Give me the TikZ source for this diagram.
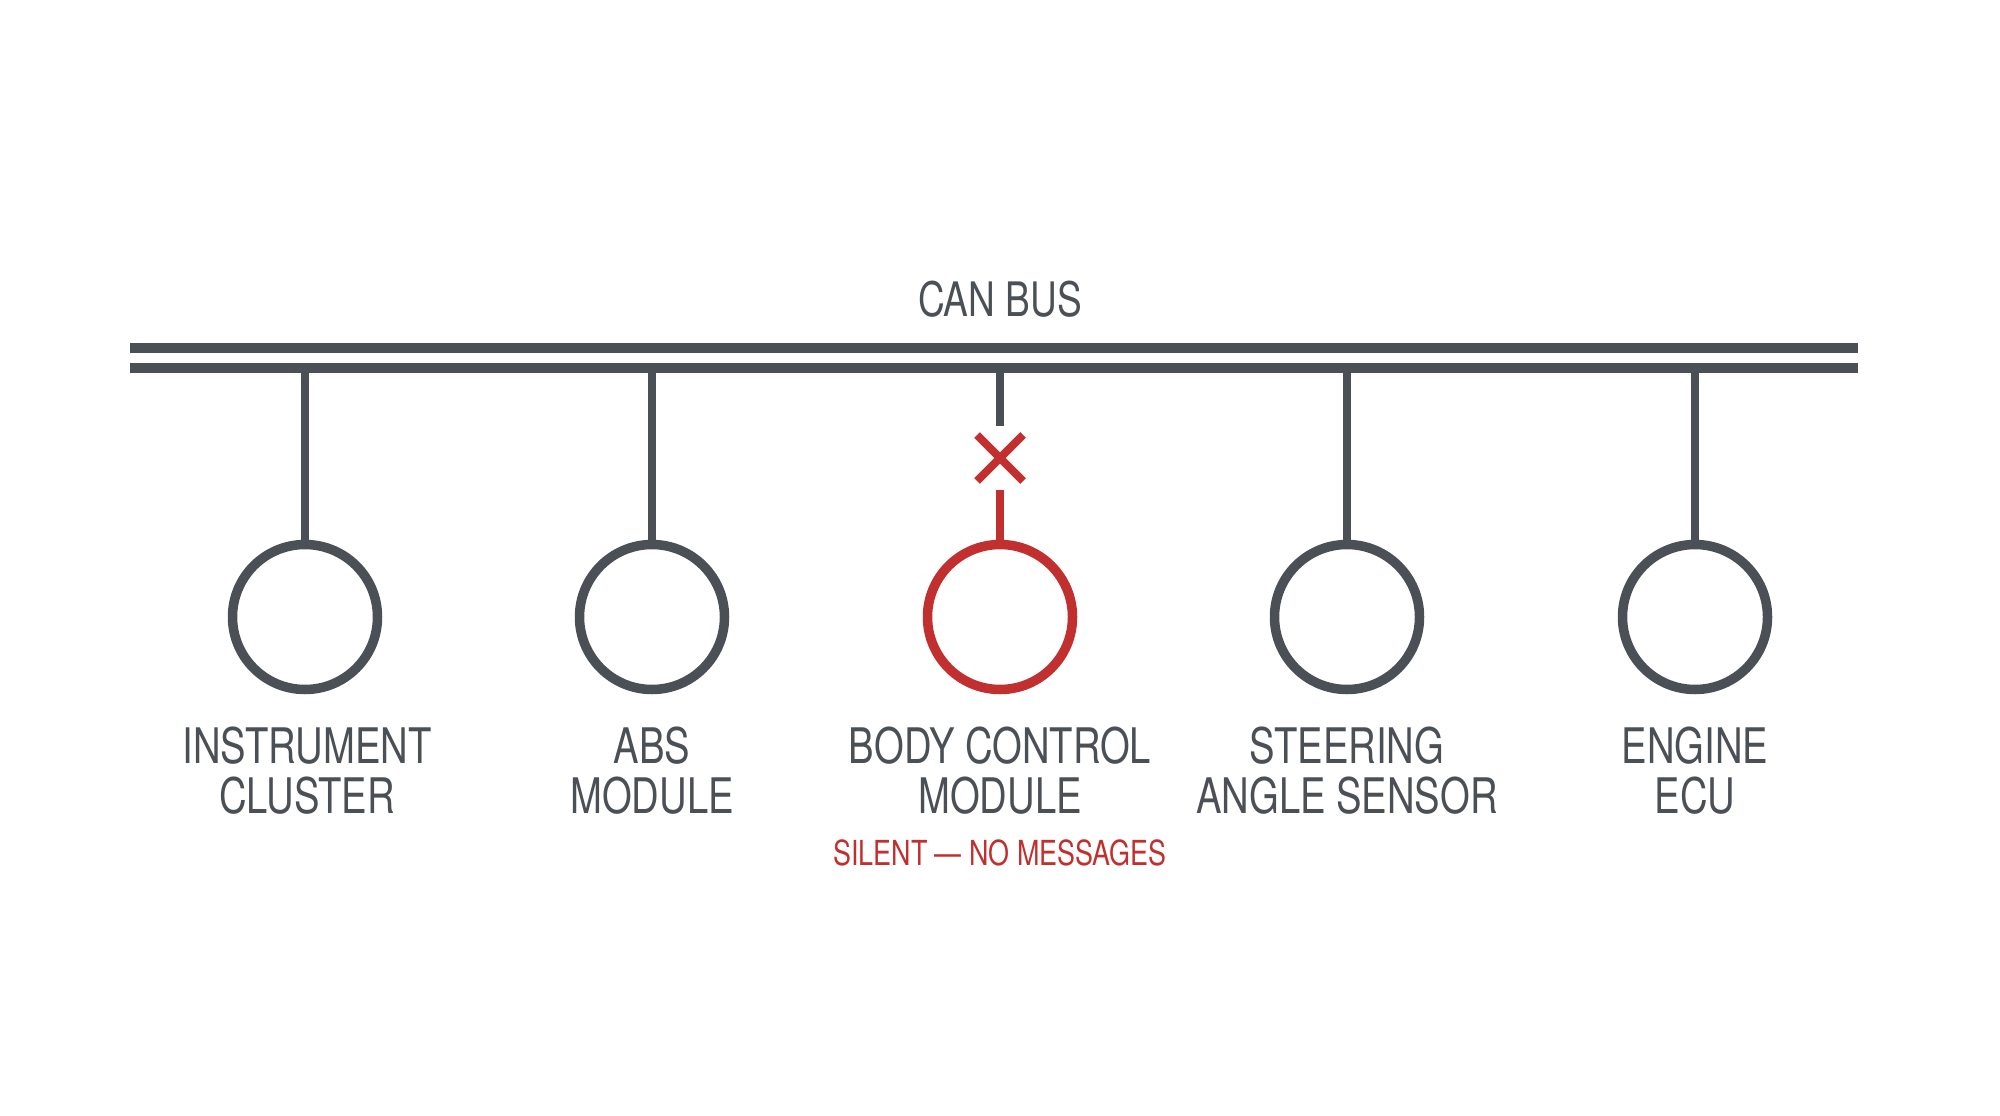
\documentclass[tikz,border=0pt]{standalone}
\usepackage{fontspec}
\setmainfont{TeX Gyre Heros}[FakeStretch=0.78]
\definecolor{busgrey}{HTML}{4B5057}
\definecolor{alertred}{HTML}{C1302F}
\begin{document}
\begin{tikzpicture}[x=1pt,y=-1pt,
  busline/.style={draw=busgrey,line width=10pt},
  stem/.style={draw=busgrey,line width=8.5pt},
  redstem/.style={draw=alertred,line width=8.5pt},
  ecu/.style={circle,draw=busgrey,line width=9.5pt,minimum size=145pt,inner sep=0pt},
  ecured/.style={ecu,draw=alertred},
  lbl/.style={anchor=base,inner sep=0pt,text=busgrey,font=\fontsize{49}{58}\selectfont},
  redlbl/.style={anchor=base,inner sep=0pt,text=alertred,font=\fontsize{34.5}{42}\selectfont},
  title/.style={anchor=base,inner sep=0pt,text=busgrey,font=\fontsize{47.5}{56}\selectfont}]
\path[fill=white] (0,0) rectangle (2000,1116);
\useasboundingbox (0,0) rectangle (2000,1116);

% bus
\coordinate (busAL) at (130,348);
\coordinate (busAR) at (1858,348);
\coordinate (busBL) at (130,368);
\coordinate (busBR) at (1858,368);
\draw[busline] (busAL) -- (busAR);
\draw[busline] (busBL) -- (busBR);
\node[title] (cantitle) at (1000,316) {CAN BUS};

% modules
\node[ecu] (c1) at (305,617) {};
\node[ecu] (c2) at (652,617) {};
\node[ecured] (c3) at (1000,617) {};
\node[ecu] (c4) at (1347,617) {};
\node[ecu] (c5) at (1695,617) {};

\coordinate (tap1) at (305,368);
\coordinate (tap2) at (652,368);
\coordinate (tap3) at (1000,368);
\coordinate (tap4) at (1347,368);
\coordinate (tap5) at (1695,368);

\draw[stem] (tap1) -- (c1.north);
\draw[stem] (tap2) -- (c2.north);
\draw[stem] (tap4) -- (c4.north);
\draw[stem] (tap5) -- (c5.north);

% broken link
\coordinate (brkA) at (1000,426);
\coordinate (brkB) at (1000,490);
\coordinate (xa) at (977,435);
\coordinate (xb) at (1023,481);
\coordinate (xc) at (1023,435);
\coordinate (xd) at (977,481);
\draw[stem] (tap3) -- (brkA);
\draw[redstem] (brkB) -- (c3.north);
\draw[redstem,line width=8pt] (xa) -- (xb);
\draw[redstem,line width=8pt] (xc) -- (xd);

% labels
\node[lbl] (l1a) at (307,763) {INSTRUMENT};
\node[lbl] (l1b) at (307,813) {CLUSTER};
\node[lbl] (l2a) at (652,763) {ABS};
\node[lbl] (l2b) at (652,813) {MODULE};
\node[lbl] (l3a) at (1000,763) {BODY CONTROL};
\node[lbl] (l3b) at (1000,813) {MODULE};
\node[redlbl] (l3c) at (1000,865) {SILENT — NO MESSAGES};
\node[lbl] (l4a) at (1347,763) {STEERING};
\node[lbl] (l4b) at (1347,813) {ANGLE SENSOR};
\node[lbl] (l5a) at (1695,763) {ENGINE};
\node[lbl] (l5b) at (1695,813) {ECU};
\end{tikzpicture}
\end{document}
